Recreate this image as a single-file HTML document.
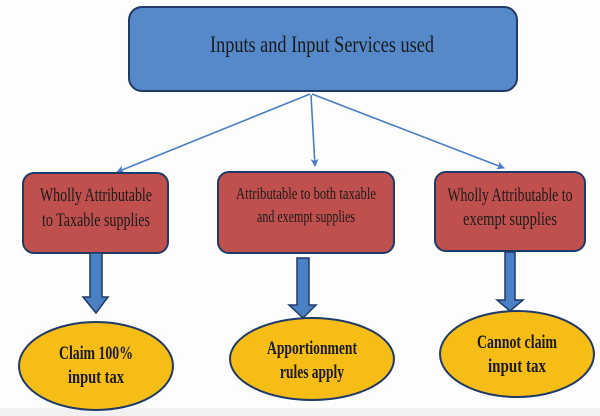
<!DOCTYPE html>
<html><head><meta charset="utf-8"><style>
html,body{margin:0;padding:0;background:#fff;}
svg{display:block;}
text{font-family:"Liberation Serif",serif;fill:#1a1a1a;}
</style></head><body>
<svg width="600" height="416" viewBox="0 0 600 416" xmlns="http://www.w3.org/2000/svg">
<defs>
<marker id="ah" markerWidth="8" markerHeight="8" refX="7" refY="4" orient="auto" markerUnits="userSpaceOnUse">
<path d="M0,0 L8,4 L0,8 L2,4 Z" fill="#4a7ec4"/>
</marker>
</defs>
<rect x="0" y="0" width="600" height="416" fill="#fdfdfd"/>
<rect x="0" y="408" width="600" height="8" fill="#f1f1f1"/>
<rect x="129" y="7" width="388" height="84" rx="13" fill="#5589c9" stroke="#1f3a66" stroke-width="2"/>
<text x="322" y="52" font-size="23" text-anchor="middle" textLength="224" lengthAdjust="spacingAndGlyphs">Inputs and Input Services used</text>
<g stroke="#4a7ec4" stroke-width="1.6" fill="none">
<line x1="310" y1="94" x2="117" y2="172" marker-end="url(#ah)"/>
<line x1="311" y1="95" x2="315" y2="166" marker-end="url(#ah)"/>
<line x1="312" y1="94" x2="504" y2="168" marker-end="url(#ah)"/>
</g>
<g fill="#c0504d" stroke="#1f3a66" stroke-width="2">
<rect x="23" y="173" width="145" height="80" rx="11"/>
<rect x="218" y="172" width="176" height="81" rx="11"/>
<rect x="435" y="172" width="150" height="79" rx="11"/>
</g>
<text x="96" y="201" font-size="19" text-anchor="middle" textLength="112" lengthAdjust="spacingAndGlyphs">Wholly Attributable</text>
<text x="96" y="226" font-size="19" text-anchor="middle" textLength="108" lengthAdjust="spacingAndGlyphs">to Taxable supplies</text>
<text x="306" y="199" font-size="17" text-anchor="middle" textLength="140" lengthAdjust="spacingAndGlyphs">Attributable to both taxable</text>
<text x="306" y="222" font-size="17" text-anchor="middle" textLength="98" lengthAdjust="spacingAndGlyphs">and exempt supplies</text>
<text x="510" y="201" font-size="19" text-anchor="middle" textLength="125" lengthAdjust="spacingAndGlyphs">Wholly Attributable to</text>
<text x="510" y="225" font-size="19" text-anchor="middle" textLength="94" lengthAdjust="spacingAndGlyphs">exempt supplies</text>
<g fill="#4a80c4" stroke="#1f3a66" stroke-width="1.5">
<path d="M90,253 L102,253 L102,297 L108,297 L96,313 L83,297 L90,297 Z"/>
<path d="M297,258 L309,258 L309,305 L316,305 L303,318 L289,305 L297,305 Z"/>
<path d="M505,252 L515,252 L515,300 L523,300 L510,311 L497,300 L505,300 Z"/>
</g>
<g fill="#f6bd17" stroke="#1f3a66" stroke-width="2">
<ellipse cx="96" cy="366" rx="77" ry="44"/>
<ellipse cx="312" cy="359" rx="82" ry="41"/>
<ellipse cx="517" cy="354" rx="77" ry="43"/>
</g>
<g font-weight="bold" font-size="19" text-anchor="middle">
<text x="96" y="359" textLength="74" lengthAdjust="spacingAndGlyphs">Claim 100%</text>
<text x="96" y="383" textLength="56" lengthAdjust="spacingAndGlyphs">input tax</text>
<text x="312" y="354" textLength="90" lengthAdjust="spacingAndGlyphs">Apportionment</text>
<text x="312" y="378" textLength="64" lengthAdjust="spacingAndGlyphs">rules apply</text>
<text x="517" y="348" textLength="80" lengthAdjust="spacingAndGlyphs">Cannot claim</text>
<text x="517" y="372" textLength="58" lengthAdjust="spacingAndGlyphs">input tax</text>
</g>
</svg>
</body></html>
